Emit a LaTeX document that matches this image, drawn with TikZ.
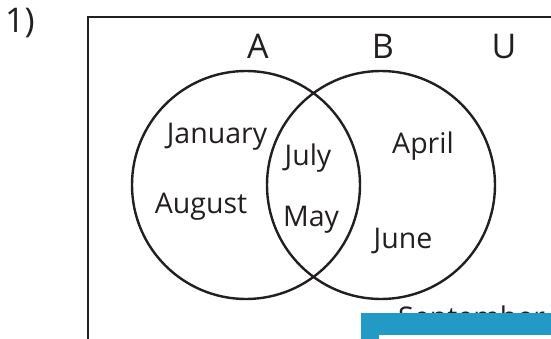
\documentclass[tikz,border=0pt]{standalone}
\usepackage{fontspec}
\setmainfont{Open Sans}
\definecolor{ink}{HTML}{231F20}
\definecolor{boxblue}{HTML}{2399C5}
\begin{document}
\begin{tikzpicture}[x=1pt,y=-1pt,
  lbl/.style={anchor=base,inner sep=0pt,text=ink,font=\fontsize{28.5}{28.5}\selectfont},
  big/.style={anchor=base,inner sep=0pt,text=ink,font=\fontsize{34}{34}\selectfont},
  setcirc/.style={circle,draw=ink,line width=2.4pt,minimum size=228pt,inner sep=0pt}]
\useasboundingbox (0,0) rectangle (551,338);
\clip (0,0) rectangle (551,338);
\fill[white] (0,0) rectangle (551,338);
\draw[ink,line width=2.6pt] (88,360) -- (88,17) -- (600,17);
\node[big] (num) at (20,32) {1)};
\node[big] (lA) at (258,58) {A};
\node[big] (lB) at (383,58) {B};
\node[big] (lU) at (504,58) {U};
\node[setcirc] (cA) at (246,185) {};
\node[setcirc] (cB) at (381,185) {};
\node[lbl] (jan) at (217,143) {January};
\node[lbl] (jul) at (308,165) {July};
\node[lbl] (aug) at (201,213) {August};
\node[lbl] (may) at (311,226) {May};
\node[lbl] (apr) at (423,153) {April};
\node[lbl] (jun) at (403,248) {June};
\node[lbl,anchor=base west] (sep) at (398,327.5) {September};
\fill[boxblue] (361,313) rectangle (560,345);
\fill[white] (379,335) rectangle (560,345);
\end{tikzpicture}
\end{document}
